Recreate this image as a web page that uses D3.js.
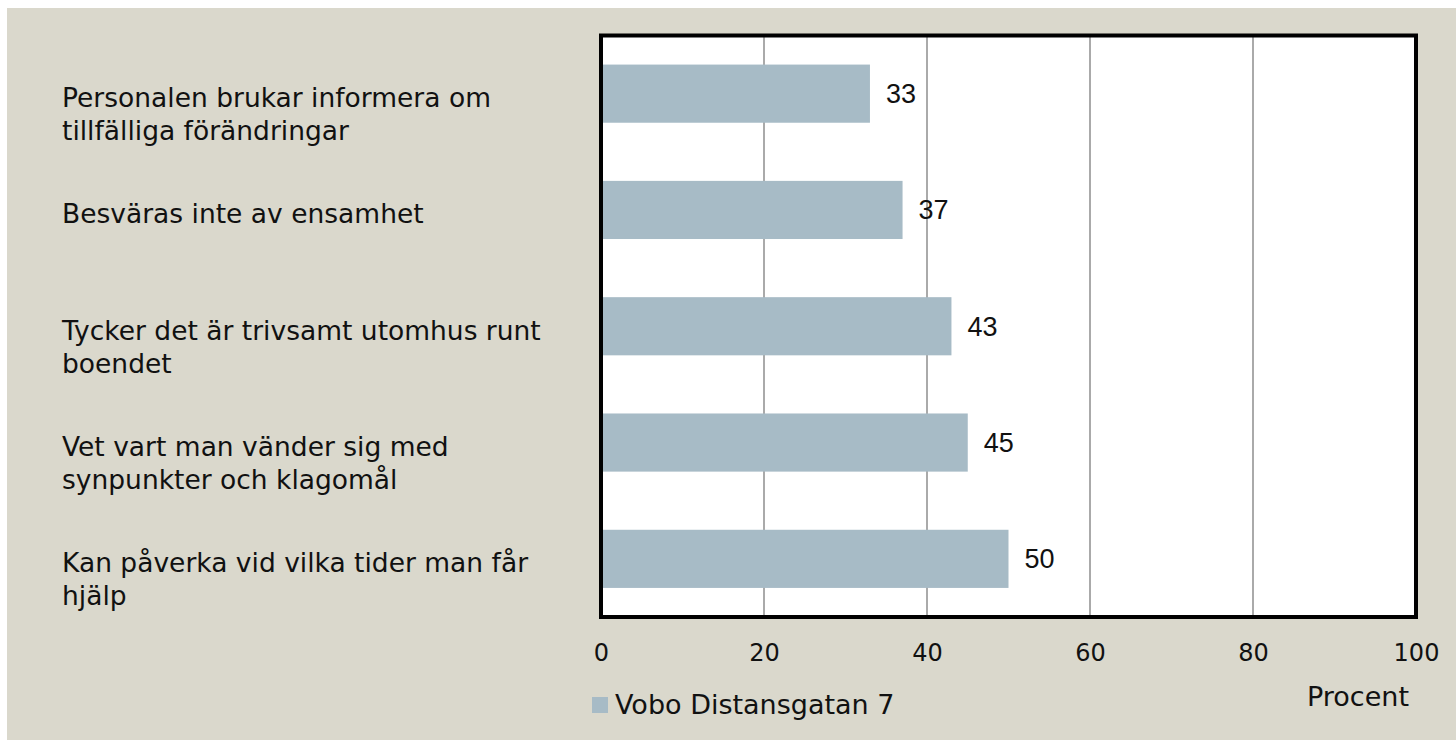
<!DOCTYPE html>
<html>
<head>
<meta charset="utf-8">
<script src="https://cdn.jsdelivr.net/npm/d3@7"></script>
<style>
  body { margin: 0; background: #fff; }
  text { fill: #111; }
</style>
</head>
<body>
<div id="container"></div>
<script>
/* CONSTANTS AND GLOBALS */
const width = 1456,
  height = 740;
const plot = { left: 601, right: 1416, top: 35.5, bottom: 617 };
const labelFont = "'DejaVu Sans', sans-serif";

/* DATA */
const categories = [
  ["Personalen brukar informera om", "tillfälliga förändringar"],
  ["Besväras inte av ensamhet"],
  ["Tycker det är trivsamt utomhus runt", "boendet"],
  ["Vet vart man vänder sig med", "synpunkter och klagomål"],
  ["Kan påverka vid vilka tider man får", "hjälp"]
];
const values = [33, 37, 43, 45, 50];
const xTicks = [0, 20, 40, 60, 80, 100];
const seriesName = "Vobo Distansgatan 7";
const axisTitle = "Procent";

const data = categories.map((c, i) => ({ key: c.join(" "), lines: c, value: values[i] }));

const svg = d3.select("#container")
  .append("svg")
  .attr("width", width)
  .attr("height", height);

// background
svg.append("rect")
  .attr("x", 7).attr("y", 8)
  .attr("width", width - 7).attr("height", height - 8)
  .attr("fill", "#dad8cc");

/* SCALES */
const xScale = d3.scaleLinear()
  .domain([0, 100])
  .range([plot.left, plot.right]);

const yScale = d3.scaleBand()
  .domain(data.map(d => d.key))
  .range([plot.top, plot.bottom])
  .paddingInner(0.5)
  .paddingOuter(0.25);

// plot area
svg.append("rect")
  .attr("x", plot.left).attr("y", plot.top)
  .attr("width", plot.right - plot.left).attr("height", plot.bottom - plot.top)
  .attr("fill", "#fff");

// gridlines
svg.append("g")
  .selectAll("line")
  .data(xTicks.slice(1, -1))
  .join("line")
  .attr("x1", d => xScale(d)).attr("x2", d => xScale(d))
  .attr("y1", plot.top).attr("y2", plot.bottom)
  .attr("stroke", "#8e8e8e")
  .attr("stroke-width", 1.5);

// bars
svg.selectAll(".bar")
  .data(data)
  .join("rect")
  .attr("class", "bar")
  .attr("x", xScale(0))
  .attr("y", d => yScale(d.key))
  .attr("width", d => xScale(d.value) - xScale(0))
  .attr("height", yScale.bandwidth())
  .attr("fill", "#a7bbc6");

// value labels
svg.selectAll(".val")
  .data(data)
  .join("text")
  .attr("class", "val")
  .attr("x", d => xScale(d.value) + 16)
  .attr("y", d => yScale(d.key) + yScale.bandwidth() / 2)
  .attr("dy", "0.35em")
  .style("font-family", "'Liberation Sans', Arial, sans-serif")
  .style("font-size", "27px")
  .text(d => d.value);

// frame
svg.append("rect")
  .attr("x", plot.left).attr("y", plot.top)
  .attr("width", plot.right - plot.left).attr("height", plot.bottom - plot.top)
  .attr("fill", "none")
  .attr("stroke", "#000")
  .attr("stroke-width", 4);

// category labels
const cat = svg.selectAll(".cat")
  .data(data)
  .join("text")
  .attr("class", "cat")
  .attr("x", 62)
  .attr("y", d => yScale(d.key) + yScale.bandwidth() / 2 + 4)
  .style("font-family", labelFont)
  .style("font-size", "26.5px");

cat.selectAll("tspan")
  .data(d => d.lines)
  .join("tspan")
  .attr("x", 62)
  .attr("dy", (d, i) => i === 0 ? "0.35em" : "33px")
  .text(d => d);

// x axis
const xAxis = svg.append("g")
  .attr("transform", `translate(0,${plot.bottom})`)
  .call(d3.axisBottom(xScale).tickValues(xTicks).tickSize(0).tickPadding(27));
xAxis.select(".domain").remove();
xAxis.selectAll("text")
  .style("font-family", labelFont)
  .style("font-size", "24px")
  .attr("fill", "#111");

svg.append("text")
  .attr("x", 1409)
  .attr("y", 697)
  .attr("dy", "0.35em")
  .attr("text-anchor", "end")
  .style("font-family", labelFont)
  .style("font-size", "27px")
  .text(axisTitle);

// legend
svg.append("rect")
  .attr("x", 592).attr("y", 697)
  .attr("width", 16).attr("height", 16)
  .attr("fill", "#a7bbc6");
svg.append("text")
  .attr("x", 615)
  .attr("y", 705)
  .attr("dy", "0.35em")
  .style("font-family", labelFont)
  .style("font-size", "27px")
  .text(seriesName);
</script>
</body>
</html>
